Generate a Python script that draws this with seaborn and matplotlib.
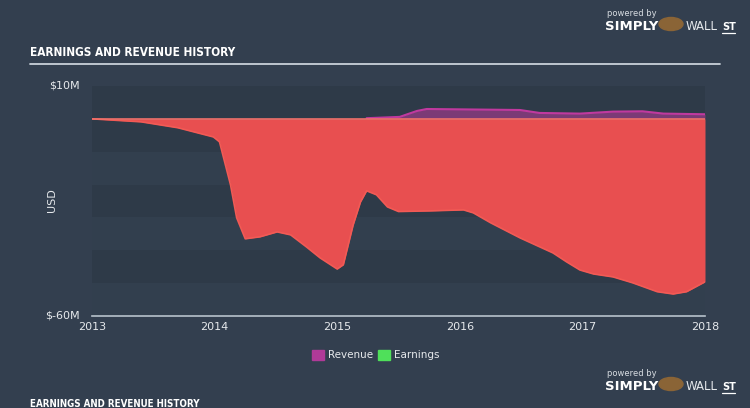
import matplotlib
matplotlib.use("Agg")
import matplotlib.pyplot as plt
import seaborn as sns
import pandas as pd
from matplotlib import font_manager as fm

# ---- data (USD millions) ----
earn_t = [2013.0, 2013.4, 2013.7, 2013.99, 2014.04, 2014.13, 2014.18, 2014.25, 2014.37,
          2014.51, 2014.62, 2014.75, 2014.86, 2015.0, 2015.05, 2015.13, 2015.19, 2015.24,
          2015.32, 2015.41, 2015.5, 2015.76, 2016.03, 2016.11, 2016.25, 2016.49, 2016.76,
          2016.87, 2016.98, 2017.09, 2017.25, 2017.41, 2017.61, 2017.74, 2017.85, 2018.0]
earn_v = [0.0, -0.9, -2.7, -5.5, -7.0, -20.1, -30.1, -36.5, -35.9,
          -34.4, -35.3, -39.0, -42.3, -45.7, -44.4, -32.3, -25.3, -21.9,
          -23.1, -26.8, -28.2, -28.0, -27.7, -28.6, -31.6, -36.2, -40.8,
          -43.5, -46.0, -47.2, -48.1, -49.9, -52.6, -53.3, -52.6, -49.6]
rev_t = [2015.24, 2015.51, 2015.65, 2015.73, 2016.49, 2016.65, 2016.98, 2017.25,
         2017.49, 2017.66, 2018.0]
rev_v = [0.2, 0.6, 2.4, 3.0, 2.7, 1.8, 1.6, 2.2, 2.3, 1.6, 1.4]

year_ticks = [2013, 2014, 2015, 2016, 2017, 2018]
y_ticks = [10, -60]
y_labels = ["$10M", "$-60M"]

BG = "#333f4f"
sns.set_theme(style="white")
plt.rcParams["font.family"] = ["DejaVu Sans"]

names = {f.name for f in fm.fontManager.ttflist}
title_family = "Liberation Sans Narrow" if "Liberation Sans Narrow" in names else "DejaVu Sans"

fig = plt.figure(figsize=(7.5, 4.08), dpi=100, facecolor=BG)
ax = fig.add_axes([92/750, 1-316/408, (705-92)/750, (316-86)/408])
ax.set_facecolor("#2e3a48")

# horizontal stripes
for lo in (-60, -40, -20):
    ax.axhspan(lo, lo + 10, color="#323f4e", lw=0, zorder=0)

edf = pd.DataFrame({"t": earn_t, "v": earn_v})
rdf = pd.DataFrame({"t": rev_t, "v": rev_v})

ax.fill_between(rdf["t"], 0, rdf["v"], color="#7b3a76", lw=0, zorder=2)
sns.lineplot(data=rdf, x="t", y="v", ax=ax, color="#c0399f", lw=1.5, zorder=3)
ax.fill_between(edf["t"], 0, edf["v"], color="#e84f50", lw=0, zorder=4)
sns.lineplot(data=edf, x="t", y="v", ax=ax, color="#f25a55", lw=1.2, zorder=5)
ax.plot([2013, 2018], [0, 0], color="#f0716a", lw=1.2, zorder=6)

ax.set_xlim(2013, 2018)
ax.set_ylim(-60, 10)
ax.set_xlabel("")
ax.set_ylabel("")
for s in ["top", "right", "left"]:
    ax.spines[s].set_visible(False)
ax.spines["bottom"].set_color("#b8c2cc")
ax.spines["bottom"].set_linewidth(1.2)
ax.set_xticks(year_ticks)
ax.set_xticklabels([str(y) for y in year_ticks], color="#e6e9ec", fontsize=8)
ax.tick_params(axis="x", direction="in", length=5, color="#b8c2cc", pad=4)
ax.set_yticks([])

# y labels
for v, lab in zip(y_ticks, y_labels):
    fig.text(80/750, 1-(86 if v == 10 else 316)/408, lab, color="#e6e9ec",
             fontsize=8, ha="right", va="center")
fig.text(52/750, 1-200/408, "USD", rotation=90, color="#e6e9ec", fontsize=8,
         ha="center", va="center")

# title and rule
fig.text(30/750, 1-52/408, "EARNINGS AND REVENUE HISTORY", color="white",
         fontsize=8.5, fontweight="bold", family=title_family, stretch="condensed",
         va="center")
fig.add_artist(plt.Line2D([30/750, 720/750], [1-64/408, 1-64/408],
                          color="#c9d1d9", lw=1.3))

# legend
lx, ly = 312/750, 1-355/408
fig.patches.append(plt.Rectangle((lx, ly-0.012), 12/750, 10/408, color="#b03a98",
                                 transform=fig.transFigure))
fig.text(lx+16/750, ly, "Revenue", color="#e6e9ec", fontsize=7.5, va="center")
lx2 = 378/750
fig.patches.append(plt.Rectangle((lx2, ly-0.012), 12/750, 10/408, color="#4fe05a",
                                 transform=fig.transFigure))
fig.text(lx2+16/750, ly, "Earnings", color="#e6e9ec", fontsize=7.5, va="center")

# logos
for yy in (14, 374):
    fig.text(607/750, 1-yy/408, "powered by", color="#d7dce1", fontsize=6, va="center")
    fig.text(605/750, 1-(yy+13)/408, "SIMPLY", color="white", fontsize=9.5,
             fontweight="bold", va="center")
    fig.text(686/750, 1-(yy+13)/408, "WALL", color="#e6e9ec", fontsize=8.5, va="center")
    fig.text(722/750, 1-(yy+13)/408, "ST", color="white", fontsize=7,
             fontweight="bold", va="center")
    fig.add_artist(plt.Line2D([722/750, 735/750], [1-(yy+19)/408, 1-(yy+19)/408],
                              color="white", lw=0.9))
    fig.patches.append(plt.Circle((671/750, 1-(yy+10)/408), 0.016, color="#8a6436",
                                  transform=fig.transFigure))

fig.text(30/750, 1-399/408, "EARNINGS AND REVENUE HISTORY", color="white",
         fontsize=7, fontweight="bold", family=title_family, stretch="condensed",
         va="top")

fig.savefig("out.png", dpi=100, facecolor=BG)
